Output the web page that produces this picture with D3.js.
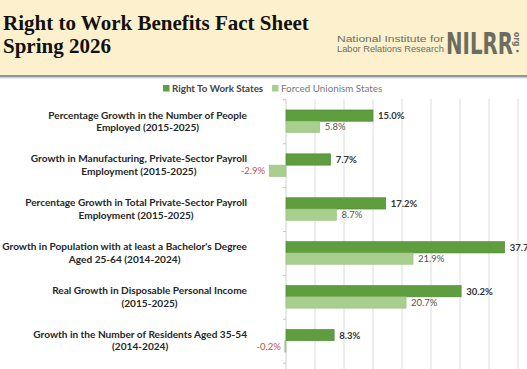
<!DOCTYPE html>
<html><head><meta charset="utf-8">
<script src="https://cdn.jsdelivr.net/npm/d3@7"></script>
<style>html,body{margin:0;padding:0;background:#fff;}svg{display:block;}</style>
</head><body>
<svg id="c" width="527" height="369"></svg>
<script>
const categories = [
  ["Percentage Growth in the Number of People", "Employed (2015-2025)"],
  ["Growth in Manufacturing, Private-Sector Payroll", "Employment (2015-2025)"],
  ["Percentage Growth in Total Private-Sector Payroll", "Employment (2015-2025)"],
  ["Growth in Population with at least a Bachelor's Degree", "Aged 25-64 (2014-2024)"],
  ["Real Growth in Disposable Personal Income", "(2015-2025)"],
  ["Growth in the Number of Residents Aged 35-54", "(2014-2024)"]
];
const seriesNames = ["Right To Work States", "Forced Unionism States"];
const rtwValues = [15.0, 7.7, 17.2, 37.7, 30.2, 8.3];
const fuValues = [5.8, -2.9, 8.7, 21.9, 20.7, -0.2];
const gridTicks = [5, 10, 15, 20, 25, 30, 35, 40];
const titleLines = ["Right to Work Benefits Fact Sheet", "Spring 2026"];

(function(){
const svg = d3.select("#c");
const W = 527, H = 369;
const dark = "#5f9e3f", darkStroke = "#4c8530", light = "#a9cf8f", lightStroke = "#97bf7d";

// Header
svg.append("rect").attr("x",0).attr("y",0).attr("width",W).attr("height",76).attr("fill","#fdf1cd");
svg.append("rect").attr("x",0).attr("y",75).attr("width",W).attr("height",2.5).attr("fill","#8e989f");
svg.append("rect").attr("x",0).attr("y",77.5).attr("width",W).attr("height",1).attr("fill","#d5d9dc");

svg.selectAll("text.title").data(titleLines).join("text")
  .attr("class","title")
  .attr("x",3).attr("y",(d,i)=>30+i*23)
  .attr("font-family","Liberation Serif, Times New Roman, serif")
  .attr("font-weight","bold").attr("font-size",21).attr("fill","#111")
  .text(d=>d);

// Logo: fit each piece to a target width by horizontal scaling
const logo = svg.append("g").attr("fill","#6c6d60");
function fitText(x0, y0, str, size, weight, family, targetW) {
  const g = logo.append("g");
  const t = g.append("text").attr("x",0).attr("y",0).attr("font-family",family)
    .attr("font-size",size).attr("font-weight",weight).text(str);
  const w = t.node().getComputedTextLength();
  g.attr("transform",`translate(${x0},${y0}) scale(${targetW/w},1)`);
}
fitText(337, 42, "National Institute for", 8.8, "normal", "Liberation Sans, Arial, sans-serif", 107);
fitText(337, 52.3, "Labor Relations Research", 8.8, "normal", "Liberation Sans, Arial, sans-serif", 107);
fitText(446, 54, "NILRR", 31, "bold", "DejaVu Sans Condensed, DejaVu Sans, sans-serif", 67);
logo.append("text").attr("transform","translate(514,32) rotate(90)")
  .attr("font-family","DejaVu Sans Condensed, DejaVu Sans, sans-serif").attr("font-weight","bold").attr("font-size",8.5)
  .text("org");
logo.append("circle").attr("cx",517.5).attr("cy",51).attr("r",1.3);

// Scales
const x = d3.scaleLinear().domain([0,40]).range([286,518]);
const y = d3.scaleBand().domain(d3.range(categories.length)).range([99.3,362.7]).paddingInner(0).paddingOuter(0);
const barH = 11.3;

// Gridlines
svg.append("g").selectAll("line").data(gridTicks).join("line")
  .attr("x1",d=>x(d)).attr("x2",d=>x(d)).attr("y1",99).attr("y2",H)
  .attr("stroke","#dcdcdc").attr("stroke-width",1);

// Axis at zero
const yAxis = d3.axisLeft(d3.scaleLinear().domain([0,categories.length]).range([99.3,362.7]))
  .ticks(categories.length).tickSize(3).tickFormat("");
const ax = svg.append("g").attr("transform",`translate(${x(0)},0)`).call(yAxis);
ax.select(".domain").attr("stroke","#d0d0d0").attr("d",`M-3,99.3H0V${H}`);
ax.selectAll(".tick line").attr("stroke","#c8c8c8");

// Legend
const legendItems = [
  {name: seriesNames[0], color: dark, x: 163, bold: true},
  {name: seriesNames[1], color: light, x: 272, bold: false}
];
const lg = svg.append("g");
legendItems.forEach(li=>{
  lg.append("rect").attr("x",li.x).attr("y",85).attr("width",6.5).attr("height",6.5).attr("fill",li.color);
  lg.append("text").attr("x",li.x+9).attr("y",91.6)
    .attr("font-family","Lato, Open Sans, sans-serif").attr("font-size",9.8)
    .attr("font-weight",li.bold?"bold":"normal")
    .attr("fill",li.bold?"#444":"#777").text(li.name);
});

// Bars
const groups = svg.append("g").selectAll("g").data(categories.map((c,i)=>({c,i,a:rtwValues[i],b:fuValues[i]}))).join("g");
const barTop = d => y(d.i) + y.bandwidth()/2 - barH;
groups.append("rect")
  .attr("x",d=>x(Math.min(0,d.a))).attr("width",d=>Math.abs(x(d.a)-x(0)))
  .attr("y",d=>barTop(d)).attr("height",barH)
  .attr("fill",dark).attr("stroke",darkStroke).attr("stroke-width",0.6);
groups.append("rect")
  .attr("x",d=>x(Math.min(0,d.b))).attr("width",d=>Math.abs(x(d.b)-x(0)))
  .attr("y",d=>barTop(d)+barH).attr("height",barH)
  .attr("fill",light).attr("stroke",lightStroke).attr("stroke-width",0.6);

// Value labels
const fmt = v => v.toFixed(1) + "%";
function valLabel(sel, key, dy, bold) {
  sel.append("text")
    .attr("x",d=>d[key]>=0 ? x(d[key])+5 : x(d[key])-4)
    .attr("y",d=>barTop(d)+dy+barH/2+3.4)
    .attr("text-anchor",d=>d[key]>=0?"start":"end")
    .attr("font-family","Lato, Open Sans, sans-serif").attr("font-size",9.5)
    .attr("font-weight",d=>(bold && d[key]>=0)?"bold":"normal")
    .attr("fill",d=>d[key]<0?"#c0504d":(bold?"#333":"#555"))
    .text(d=>fmt(d[key]));
}
valLabel(groups,"a",0,true);
valLabel(groups,"b",barH,false);

// Category labels
groups.each(function(d){
  const g = d3.select(this);
  const cy = y(d.i) + y.bandwidth()/2;
  const t = g.append("text").attr("font-family","Lato, Open Sans, sans-serif").attr("font-size",10.1)
    .attr("font-weight","bold").attr("fill","#262626").attr("text-anchor","middle");
  const spans = t.selectAll("tspan").data(d.c).join("tspan").text(s=>s)
    .attr("y",(s,j)=>cy - 6.2 + j*12.4 + 3.5);
  let maxW = 0;
  spans.each(function(){ maxW = Math.max(maxW, this.getComputedTextLength()); });
  spans.attr("x", 247 - maxW/2);
});
})();
</script>
</body></html>
